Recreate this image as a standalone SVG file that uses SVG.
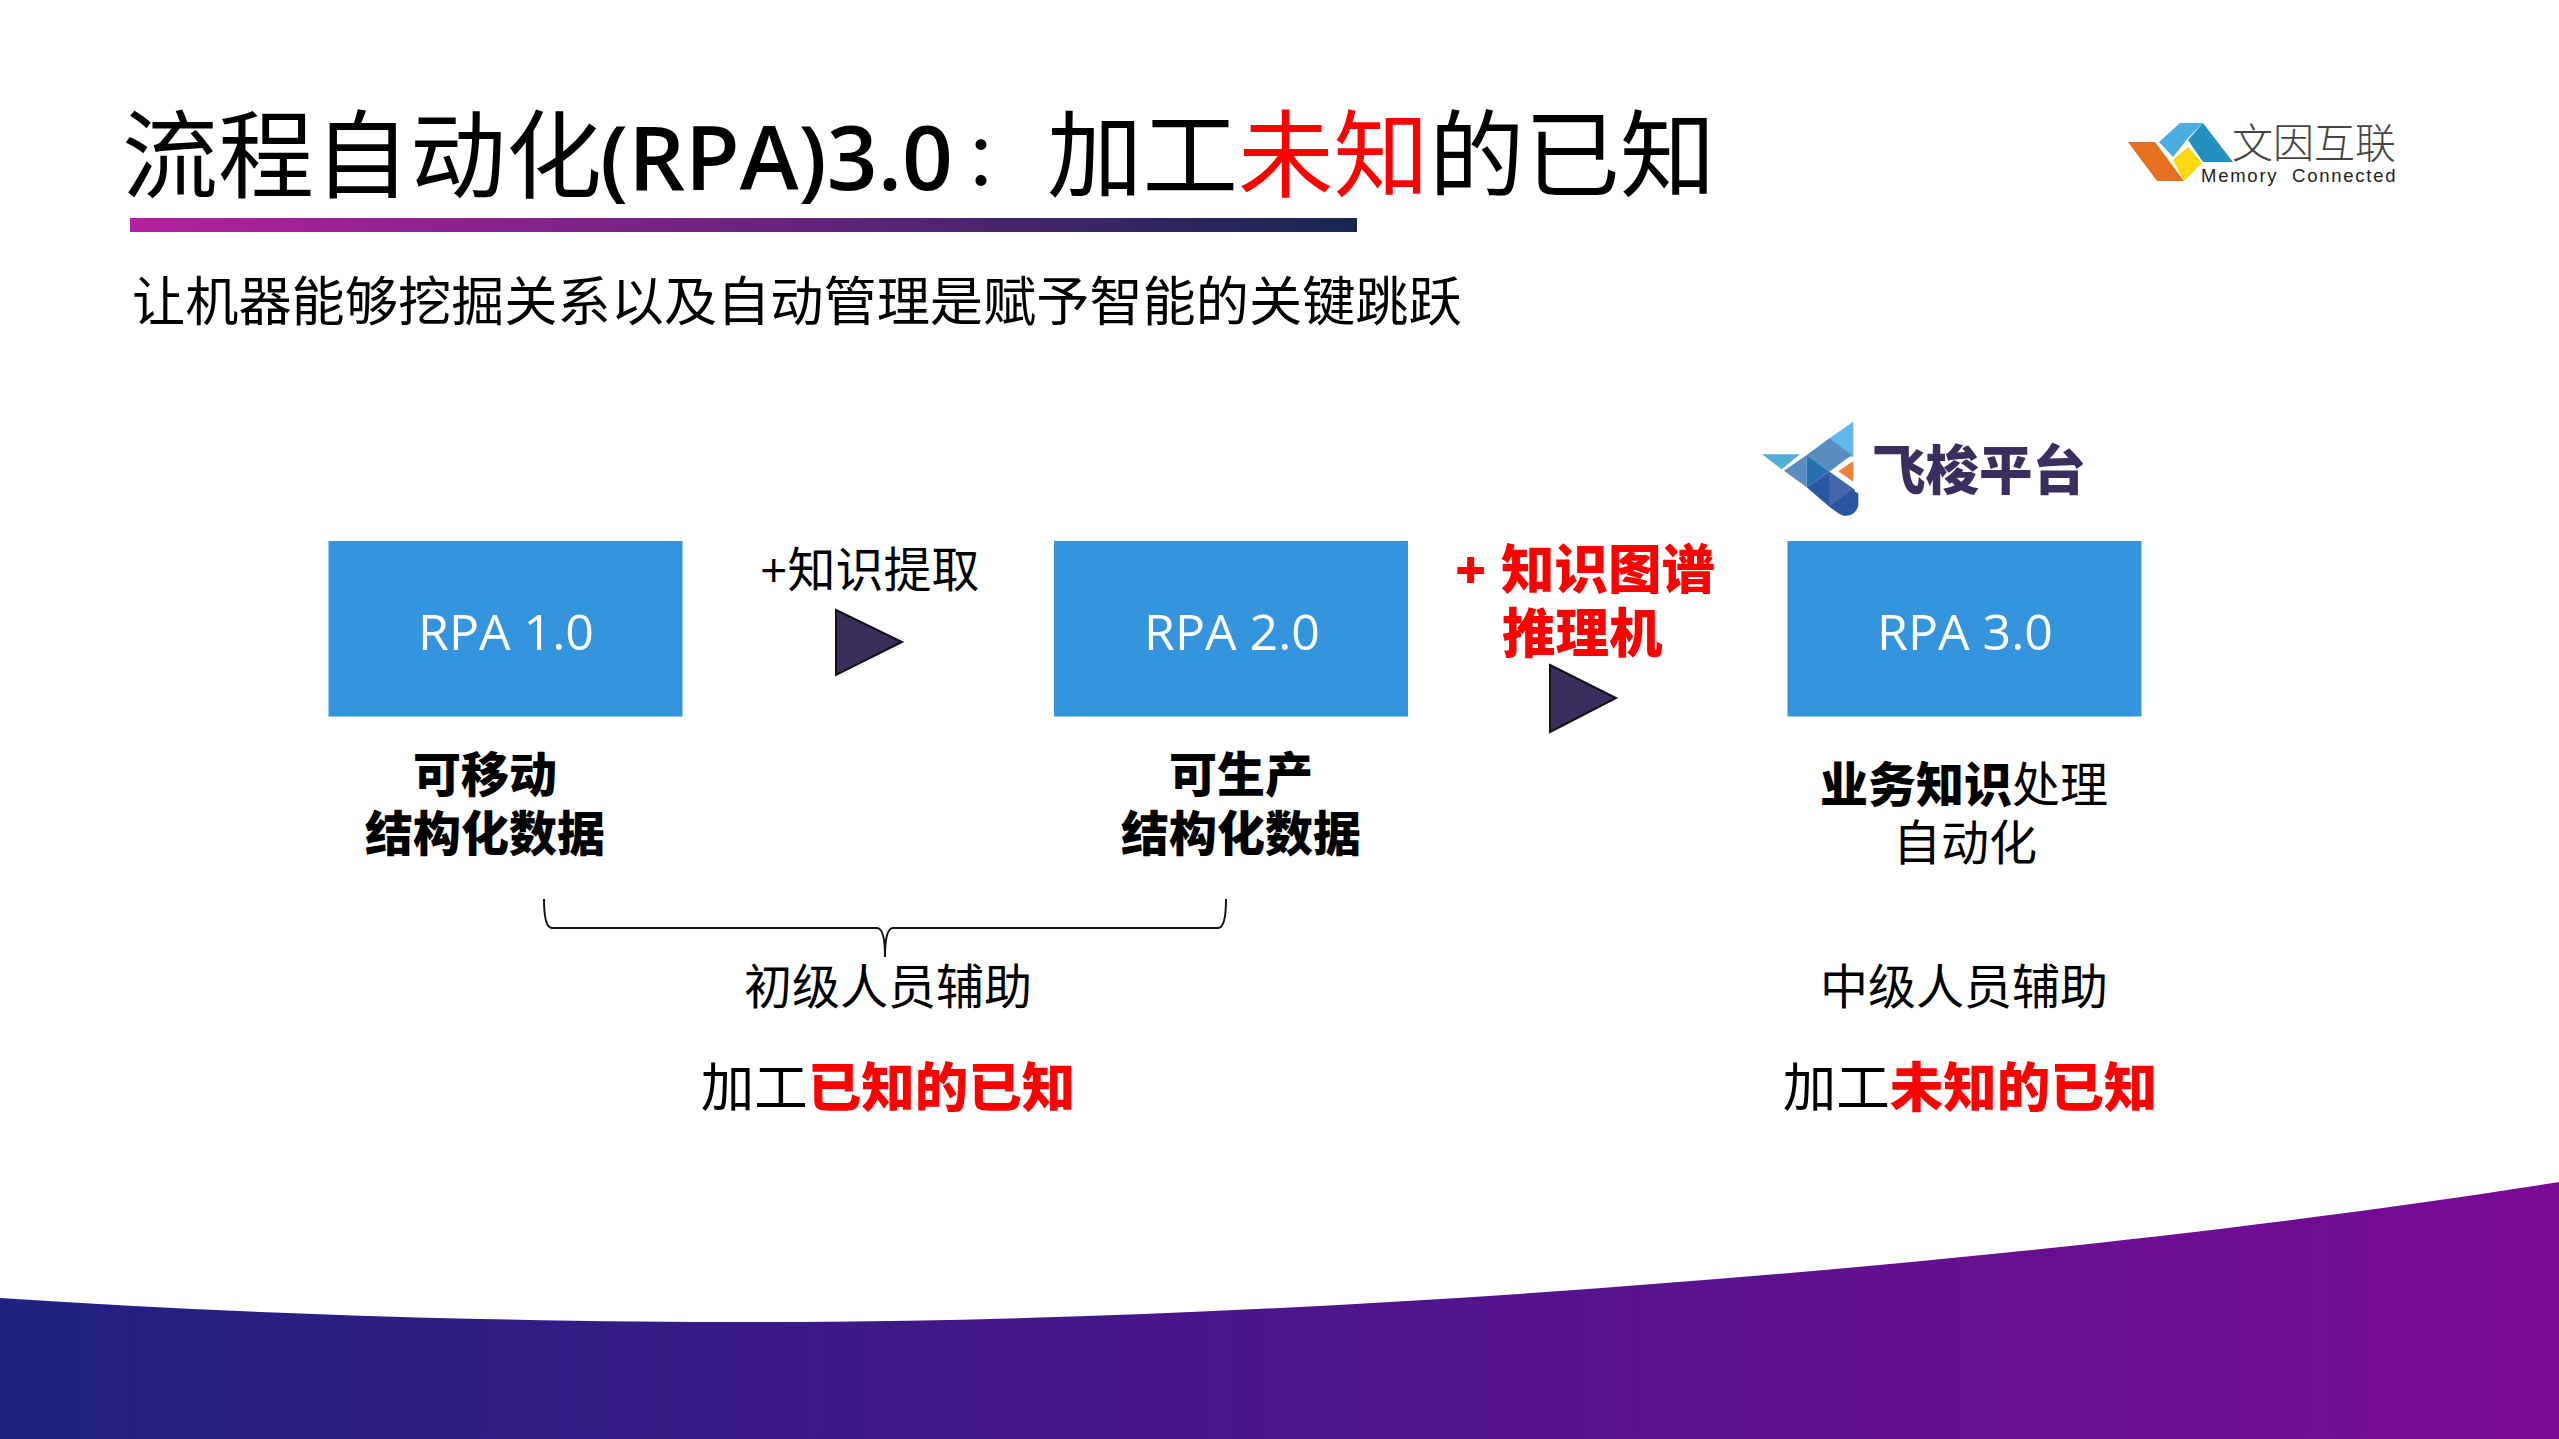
<svg xmlns="http://www.w3.org/2000/svg" width="2559" height="1439" viewBox="0 0 2559 1439">
<style>
text{font-family:"Open Sans","Noto Sans CJK SC",sans-serif;fill:#000}
.c{text-anchor:middle}
.l{font-size:48px}
.b{font-weight:900}
.r{fill:#f00}
.m{font-size:53.500px}
.box{fill:#3494de}
.rpa{font-size:50px;fill:#fff;text-anchor:middle}
.tri{fill:#3b2d5e;stroke:#111;stroke-width:2}
</style>
<defs>
<linearGradient id="bar" x1="0" x2="1" y1="0" y2="0"><stop offset="0" stop-color="#b5209f"/><stop offset="0.5" stop-color="#6b2380"/><stop offset="1" stop-color="#16274f"/></linearGradient>
<linearGradient id="wave" x1="0" x2="1" y1="0" y2="0"><stop offset="0" stop-color="#1f2180"/><stop offset="1" stop-color="#7a0a96"/></linearGradient>
</defs>
<rect width="2559" height="1439" fill="#fff"/>
<path id="wave-band" d="M0 1298C300 1318 600 1323 800 1322C1400 1318 2100 1255 2559 1182V1439H0Z" fill="url(#wave)"/>
<g id="title">
<text x="122" y="190" font-size="96">流程自动化</text>
<text x="600" y="190" font-size="89" font-weight="600">(RPA)3.0<tspan dx="-8" dy="-1" font-size="72" font-weight="400" style="font-family:'Noto Sans CJK TC',sans-serif">：</tspan></text>
<text x="1047" y="190" font-size="95.500">加工<tspan class="r">未知</tspan>的已知</text>
<rect x="130" y="218" width="1227" height="14" fill="url(#bar)"/>
</g>
<text id="subtitle" x="132" y="321" font-size="53.200">让机器能够挖掘关系以及自动管理是赋予智能的关键跳跃</text>
<g id="logo-memory">
<polygon points="2128,142 2155,142 2184,181 2157,181" fill="#e57020"/>
<polygon points="2188,147 2202,163 2184,181 2173,160" fill="#fbd80f"/>
<polygon points="2159,142 2180,123 2203,123 2188,138 2173,157" fill="#4aaee3"/>
<polygon points="2203,123 2233,162 2203,162 2188,140" fill="#2490bf"/>
<text x="2232" y="158" font-size="41" style="font-weight:300;fill:#444">文因互联</text>
<text x="2201" y="182" font-size="18.500" style="font-family:'Liberation Sans',sans-serif;letter-spacing:1.750px;fill:#222" xml:space="preserve">Memory  Connected</text>
</g>
<g id="logo-feisuo">
<g transform="translate(1740 400) scale(.3333)">
<polygon points="340,65 268,115 268,170 340,170" fill="#62b8ea"/>
<polygon points="268,115 200,165 268,215 335,165" fill="#5b8cc0"/>
<polygon points="66,163 180,163 125,208" fill="#52afd8"/>
<polygon points="132,212 200,165 200,262" fill="#5b8cc0"/>
<polygon points="200,165 268,215 200,262" fill="#2670b0"/>
<polygon points="200,262 268,215 345,270 335,320 268,320" fill="#2b57a5"/>
<polygon points="268,215 345,270 268,320" fill="#4267ad"/>
<path d="M268 320L335 270L355 280V315Q350 345 315 348Q305 348 295 340Z" fill="#2b55a0"/>
<polygon points="340,183 340,245 295,214" fill="#ef7f3c"/>
</g>
<text x="1872" y="490" class="m b" style="fill:#3b2d5e">飞梭平台</text>
</g>
<g id="rpa1"><rect class="box" x="328.500" y="541" width="354" height="175.500"/><text class="rpa" x="506" y="650">RPA 1.0</text></g>
<g id="rpa2"><rect class="box" x="1054" y="541" width="354" height="175.500"/><text class="rpa" x="1232" y="650">RPA 2.0</text></g>
<g id="rpa3"><rect class="box" x="1787.500" y="541" width="354" height="175.500"/><text class="rpa" x="1965" y="650">RPA 3.0</text></g>
<g id="step1"><text class="l" x="760" y="587">+知识提取</text><polygon class="tri" points="836,610 902,642 836,675"/></g>
<g id="step2"><text class="m b r" x="1455" y="589">+<tspan x="1501">知识图谱</tspan><tspan x="1502" y="653">推理机</tspan></text><polygon class="tri" points="1550,665 1616,698 1550,732"/></g>
<g id="desc1"><text class="l b c" x="485" y="792">可移动</text><text class="l b c" x="485" y="851">结构化数据</text></g>
<g id="desc2"><text class="l b c" x="1241" y="792">可生产</text><text class="l b c" x="1241" y="851">结构化数据</text></g>
<g id="desc3"><text class="l c" x="1964" y="802"><tspan class="b">业务知识</tspan>处理</text><text class="l c" x="1965" y="860">自动化</text></g>
<g id="connectors">
<path d="M544 899Q544 928 552 928H877Q885 928 885 957Q885 928 893 928H1218Q1226 928 1226 899" fill="none" stroke="#111" stroke-width="2"/></g>
<g id="assist1"><text class="l c" x="888" y="1004">初级人员辅助</text><text class="m c" x="888" y="1107">加工<tspan class="b r">已知的已知</tspan></text></g>
<g id="assist3"><text class="l c" x="1964" y="1004">中级人员辅助</text><text class="m c" x="1970" y="1107">加工<tspan class="b r">未知的已知</tspan></text></g>
</svg>
